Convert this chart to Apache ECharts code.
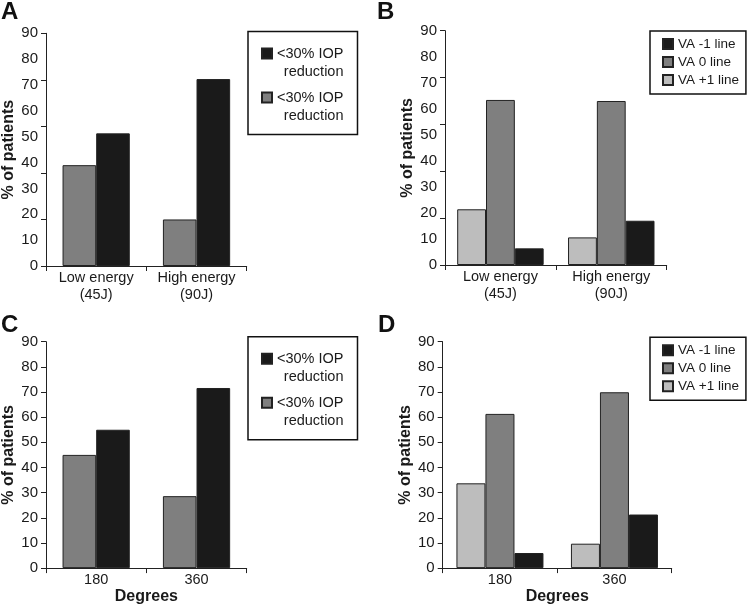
<!DOCTYPE html>
<html><head><meta charset="utf-8">
<script src="https://cdn.jsdelivr.net/npm/echarts@6/dist/echarts.min.js"></script>
<style>html,body{margin:0;padding:0;background:#fff}#c{width:750px;height:606px}</style>
</head><body><div id="c"></div>
<script>
// ---- data ----
const catsAB = ['Low energy\n(45J)', 'High energy\n(90J)'];
const catsCD = ['180', '360'];
const tickValuesAB = [0, 18, 36, 54, 72, 90];
const aGray = [39, 18];
const aBlack = [51.3, 72.3];
const bPlus = [21.4, 10.6];
const bZero = [63.4, 63];
const bMinus = [6.4, 17];
const cGray = [45, 28.6];
const cBlack = [55, 71.6];
const dPlus = [33.7, 9.7];
const dZero = [61.3, 69.9];
const dMinus = [6, 21.3];
const iopKeys = ['iopBlack', 'iopGray'];
const iopLabels = ['<30% IOP\nreduction', '<30% IOP\nreduction'];
const vaNames = ['VA -1 line', 'VA 0 line', 'VA +1 line'];
const panelLetters = ['A', 'B', 'C', 'D'];
const yName = '% of patients';
const xNameCD = 'Degrees';

// ---- style ----
const FONT = '"Liberation Sans", Arial, Helvetica, sans-serif';
const INK = '#1a1a1a';
const BLACK = '#1a1a1a', GRAY = '#7f7f7f', LIGHT = '#bdbdbd', EDGE = '#222';

const grids = [
  {left: 45, top: 33.3, width: 201.7, height: 232.7},
  {left: 445, top: 30.7, width: 221.7, height: 234.3},
  {left: 45, top: 341.7, width: 201.7, height: 227.6},
  {left: 442.7, top: 341.7, width: 229, height: 230}
];
const catGaps = ['33%', '22%', '33%', '24%'];

function xAxis(i, cats, name) {
  return {
    type: 'category', gridIndex: i, data: cats,
    name: name || '', nameLocation: 'middle', nameGap: 20,
    nameTextStyle: {fontFamily: FONT, fontSize: 16, fontWeight: 'bold', color: INK},
    axisLine: {lineStyle: {color: EDGE, width: 1}},
    axisTick: {show: true, length: 5, alignWithLabel: false, lineStyle: {color: EDGE}},
    axisLabel: {fontFamily: FONT, fontSize: 14.5, lineHeight: 17, color: INK, margin: 3, interval: 0},
    splitLine: {show: false}
  };
}
function yAxis(i, customTicks) {
  const tick = {show: true, length: 5, lineStyle: {color: EDGE}};
  if (customTicks) tick.customValues = customTicks;
  return {
    type: 'value', gridIndex: i, min: 0, max: 90, interval: 10,
    name: yName, nameLocation: 'middle', nameGap: 29, nameRotate: 90,
    nameTextStyle: {fontFamily: FONT, fontSize: 16, fontWeight: 'bold', color: INK},
    axisLine: {show: true, lineStyle: {color: EDGE, width: 1}},
    axisTick: tick,
    axisLabel: {fontFamily: FONT, fontSize: 15, color: INK, margin: 8},
    splitLine: {show: false}
  };
}
function bar(name, i, data, color) {
  return {
    type: 'bar', name: name, xAxisIndex: i, yAxisIndex: i, data: data,
    barGap: '0%', barCategoryGap: catGaps[i],
    itemStyle: {color: color, borderColor: EDGE, borderWidth: 1},
    emphasis: {disabled: true}, animation: false
  };
}
const iopRich = {r: {fontFamily: FONT, fontSize: 14.5, lineHeight: 18, color: INK, align: 'right'}};
function iopLegend(top) {
  return {
    orient: 'vertical', left: 248, top: top,
    padding: [12, 14, 9, 13], itemGap: 6, itemWidth: 10, itemHeight: 36,
    icon: 'path://M0,0M10,36M0,4h10v10h-10z',
    data: iopKeys,
    formatter: function (n) {
      return iopLabels[iopKeys.indexOf(n)].split('\n').map(function (s) { return '{r|' + s + '}'; }).join('\n');
    },
    textStyle: {rich: iopRich, fontFamily: FONT, fontSize: 14.5, color: INK},
    borderColor: '#111', borderWidth: 1.5, backgroundColor: '#fff', selectedMode: false
  };
}
function vaLegend(top) {
  return {
    orient: 'vertical', left: 650, top: top,
    padding: [4, 7, 5, 12], itemGap: 0, itemWidth: 10, itemHeight: 10,
    icon: 'rect', data: vaNames,
    textStyle: {fontFamily: FONT, fontSize: 13.5, lineHeight: 18, color: INK},
    borderColor: '#111', borderWidth: 1.5, backgroundColor: '#fff', selectedMode: false
  };
}
const letterPos = [[1, 0], [377, 0], [1, 313], [378, 313]];

const option = {
  backgroundColor: '#fff',
  animation: false,
  title: panelLetters.map(function (t, k) {
    return {text: t, left: letterPos[k][0], top: letterPos[k][1], padding: 0,
      textStyle: {fontFamily: FONT, fontSize: 24, fontWeight: 'bold', color: '#111'}};
  }),
  grid: grids,
  xAxis: [xAxis(0, catsAB), xAxis(1, catsAB), xAxis(2, catsCD, xNameCD), xAxis(3, catsCD, xNameCD)],
  yAxis: [yAxis(0, tickValuesAB), yAxis(1, tickValuesAB), yAxis(2), yAxis(3)],
  legend: [iopLegend(31.5), vaLegend(31), iopLegend(336.7), vaLegend(337.3)],
  series: [
    bar('iopGray', 0, aGray, GRAY), bar('iopBlack', 0, aBlack, BLACK),
    bar(vaNames[2], 1, bPlus, LIGHT), bar(vaNames[1], 1, bZero, GRAY), bar(vaNames[0], 1, bMinus, BLACK),
    bar('iopGray', 2, cGray, GRAY), bar('iopBlack', 2, cBlack, BLACK),
    bar(vaNames[2], 3, dPlus, LIGHT), bar(vaNames[1], 3, dZero, GRAY), bar(vaNames[0], 3, dMinus, BLACK)
  ]
};
const chart = echarts.init(document.getElementById('c'), null, {renderer: 'canvas'});
chart.setOption(option);
</script></body></html>
